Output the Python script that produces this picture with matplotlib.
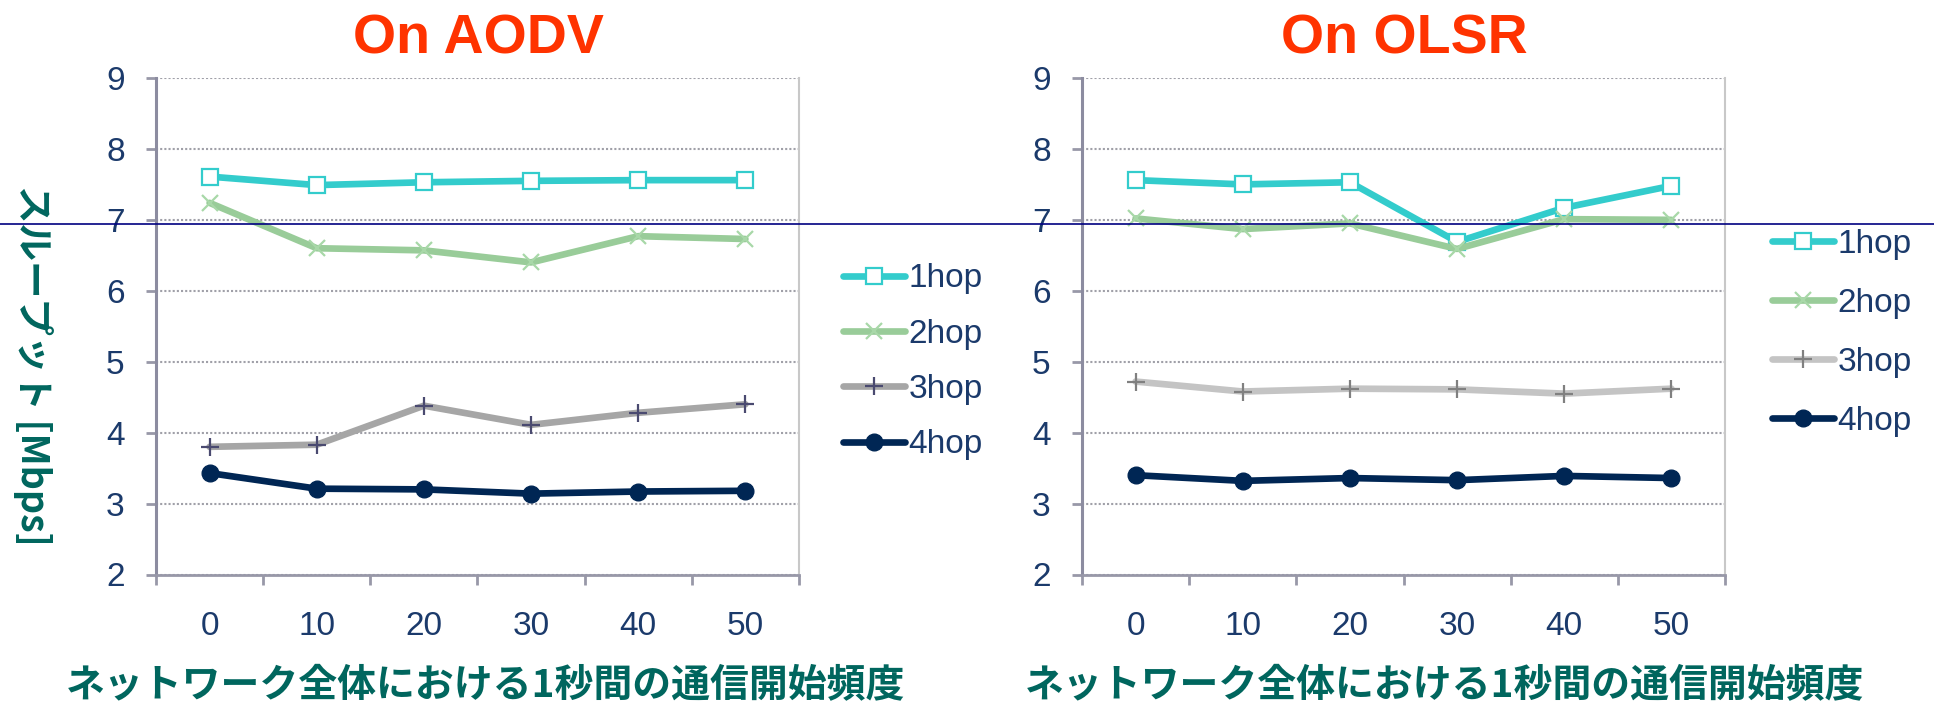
import matplotlib
matplotlib.use("Agg")
import matplotlib.pyplot as plt
from matplotlib.lines import Line2D
from matplotlib.ticker import FixedLocator, NullFormatter

# ---- data -------------------------------------------------------------
x_labels = ["0", "10", "20", "30", "40", "50"]
series_names = ["1hop", "2hop", "3hop", "4hop"]

aodv_1hop = [7.61, 7.49, 7.53, 7.55, 7.56, 7.56]
aodv_2hop = [7.24, 6.60, 6.57, 6.40, 6.77, 6.73]
aodv_3hop = [3.80, 3.83, 4.38, 4.11, 4.28, 4.40]
aodv_4hop = [3.43, 3.21, 3.20, 3.14, 3.17, 3.18]

olsr_1hop = [7.56, 7.50, 7.53, 6.69, 7.17, 7.48]
olsr_2hop = [7.02, 6.87, 6.95, 6.59, 7.01, 7.00]
olsr_3hop = [4.72, 4.58, 4.62, 4.61, 4.55, 4.62]
olsr_4hop = [3.40, 3.32, 3.36, 3.33, 3.39, 3.36]

titles = ["On AODV", "On OLSR"]
xlabel_text = "ネットワーク全体における1秒間の通信開始頻度"
ylabel_text = "スループット [Mbps]"

# ---- style ------------------------------------------------------------
W, H = 1934, 706
DPI = 100
TICK_COLOR = "#1B3A6B"
LABEL_COLOR = "#00665E"
TITLE_COLOR = "#FF3300"
LATIN = ["Liberation Sans", "DejaVu Sans"]
CJK = ["Noto Sans CJK JP", "DejaVu Sans"]

styles_aodv = [
    dict(color="#33CCCC", marker="s", ms=11, mfc="white", mec="#33CCCC", mew=1.6),
    dict(color="#99CC99", marker="x", ms=12, mec="#A8D8A8", mew=1.6),
    dict(color="#A6A6A6", marker="+", ms=13, mec="#4A4A70", mew=1.6),
    dict(color="#002654", marker="o", ms=12, mfc="#002654", mec="#002654"),
]
styles_olsr = [dict(s) for s in styles_aodv]
styles_olsr[2] = dict(color="#C4C4C4", marker="+", ms=13, mec="#808080", mew=1.6)

fig = plt.figure(figsize=(W / DPI, H / DPI), dpi=DPI)


def px_box(x0, x1, ytop, ybot):
    return [x0 / W, 1 - ybot / H, (x1 - x0) / W, (ybot - ytop) / H]


def draw_panel(rect, data, styles, title, title_x, legend_anchor, legend_spacing,
               xlabel_x):
    ax = fig.add_axes(rect)
    xs = list(range(len(x_labels)))
    handles = []
    for vals, st, name in zip(data, styles, series_names):
        (h,) = ax.plot(xs, vals, lw=4.8, solid_capstyle="round",
                       solid_joinstyle="round", label=name, **st)
        handles.append(h)

    ax.set_xlim(-0.5, len(x_labels) - 0.5)
    ax.set_ylim(2, 9)
    ax.set_yticks(range(2, 10))
    ax.set_xticks(xs)
    ax.set_xticklabels(x_labels)
    ax.xaxis.set_minor_locator(FixedLocator([i - 0.5 for i in range(len(x_labels) + 1)]))
    ax.xaxis.set_minor_formatter(NullFormatter())

    ax.tick_params(axis="x", which="major", length=0, pad=26, labelsize=24,
                   labelcolor=TICK_COLOR)
    ax.tick_params(axis="x", which="minor", length=7.5, width=2, color="#9898A8",
                   direction="out")
    ax.tick_params(axis="y", length=7.5, width=2, color="#9898A8", pad=15,
                   labelsize=24, labelcolor=TICK_COLOR)
    for lab in ax.get_xticklabels() + ax.get_yticklabels():
        lab.set_family(LATIN)

    ax.yaxis.grid(True, linestyle=(0, (1, 1)), color="#A0A0A8", lw=1.5)
    ax.set_axisbelow(True)
    ax.spines["top"].set_visible(False)
    ax.spines["left"].set_color("#8C8CA0")
    ax.spines["left"].set_linewidth(2.2)
    ax.spines["bottom"].set_color("#9898A8")
    ax.spines["bottom"].set_linewidth(2)
    ax.spines["right"].set_color("#C8C8C8")
    ax.spines["right"].set_linewidth(1.5)

    fig.text(title_x / W, 1 - 54 / H, title, ha="center", va="baseline",
             fontsize=40, fontweight="bold", color=TITLE_COLOR, family=LATIN)
    fig.text(xlabel_x / W, 1 - 686 / H, xlabel_text, ha="center", va="center",
             fontsize=28, fontweight="bold", color=LABEL_COLOR, family=CJK)

    leg = fig.legend(handles=handles, loc="center left",
                     bbox_to_anchor=(legend_anchor[0] / W, 1 - legend_anchor[1] / H),
                     frameon=False, fontsize=24, handlelength=1.85,
                     handletextpad=0.12, labelspacing=legend_spacing,
                     borderpad=0, borderaxespad=0)
    for t in leg.get_texts():
        t.set_color(TICK_COLOR)
        t.set_family(LATIN)
    return ax


draw_panel(px_box(156, 799, 78, 574.5),
           [aodv_1hop, aodv_2hop, aodv_3hop, aodv_4hop], styles_aodv,
           titles[0], 478, (843, 362), 0.73, 486)
draw_panel(px_box(1082, 1725, 78, 574.5),
           [olsr_1hop, olsr_2hop, olsr_3hop, olsr_4hop], styles_olsr,
           titles[1], 1404, (1772, 333), 0.84, 1445)

fig.text(33 / W, 1 - 365 / H, ylabel_text, rotation=270, ha="center",
         va="center", fontsize=27, fontweight="bold", color=LABEL_COLOR,
         family=CJK)

# thin navy rule spanning the whole slide
fig.add_artist(Line2D([0, 1], [1 - 224 / H, 1 - 224 / H], transform=fig.transFigure,
                      color="#000080", lw=1.2, zorder=10))

fig.savefig("out.png", dpi=DPI)
